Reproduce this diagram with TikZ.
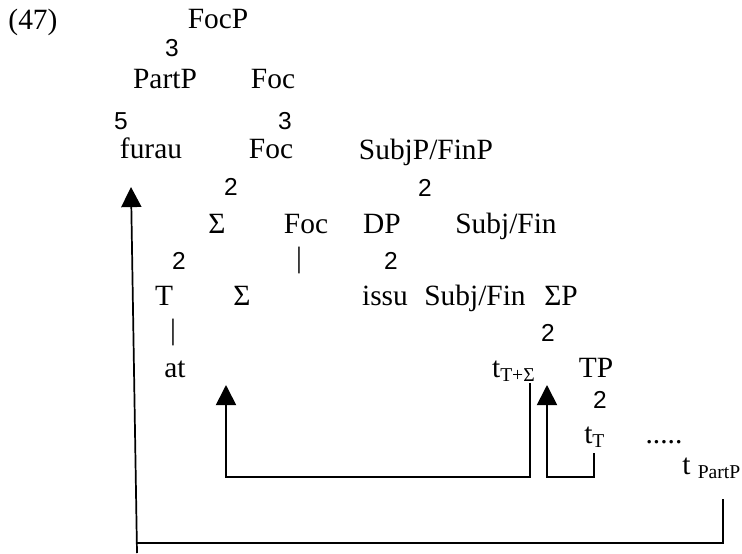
\documentclass[tikz,border=0pt]{standalone}
\usepackage{fontspec}
\setmainfont{Liberation Serif}
\newfontfamily\brfont{Liberation Sans}
\usetikzlibrary{arrows.meta,positioning}

\begin{document}
\begin{tikzpicture}[x=0.408pt, y=-0.408pt,
            lab/.style={inner sep=0pt, anchor=base, font=\fontsize{12}{14}\selectfont},
            br/.style={inner sep=0pt, anchor=center, font=\brfont\fontsize{10}{12}\selectfont},
            mv/.style={line width=0.7pt},
            mv tip/.style={mv, -{Triangle[length=8.2pt,width=8.2pt]}}]
            
            \useasboundingbox (0,0) rectangle (742,554);
            
            \node[lab, anchor=base west] (ex) at (8,29) {(47)};
            \node[lab] (focp) at (218,28) {FocP};
            \node[br] (b1) at (172,48) {3};
            \node[lab] (partp) at (165,88) {PartP};
            \node[lab] (foc1) at (273,88) {Foc};
            \node[br] (b2) at (121,121) {5};
            \node[br] (b3) at (285,121) {3};
            \node[lab] (furau) at (151,158) {furau};
            \node[lab] (foc2) at (271,158) {Foc};
            \node[lab] (subjp) at (426,159) {SubjP/FinP};
            \node[br] (b4) at (231,187) {2};
            \node[br] (b5) at (425,188) {2};
            \node[lab] (sig1) at (217,233) {Σ};
            \node[lab] (foc3) at (306,233) {Foc};
            \node[lab] (dp) at (382,233) {DP};
            \node[lab] (subj1) at (506,233) {Subj/Fin};
            \node[br] (b6) at (179,261) {2};
            \node[lab, anchor=center] (bar1) at (299,260) {|};
            \node[br] (b7) at (391,261) {2};
            \node[lab] (t) at (164,305) {T};
            \node[lab] (sig2) at (242,305) {Σ};
            \node[lab] (issu) at (385,305) {issu};
            \node[lab] (subj2) at (475,305) {Subj/Fin};
            \node[lab] (sigp) at (561,305) {ΣP};
            \node[lab, anchor=center] (bar2) at (173,332) {|};
            \node[br] (b8) at (548,333) {2};
            \node[lab] (at) at (175,377) {at};
            \node[lab] (tts) at (514,377) {t\textsubscript{T+Σ}};
            \node[lab] (tp) at (596,377) {TP};
            \node[br] (b9) at (600,400) {2};
            \node[lab] (tt) at (595,443) {t\textsubscript{T}};
            \node[lab] (dots) at (664,443) {.....};
            \node[lab, anchor=base east] (tpp) at (742,474) {t \textsubscript{PartP}};
            
            \coordinate (tts foot) at (530,383);
            \coordinate (sig land) at (226,385);
            \coordinate (tt foot) at (594,453);
            \coordinate (tts land) at (547,385);
            \coordinate (tpp foot) at (723,499);
            \coordinate (long start) at (137,553);
            \coordinate (furau land) at (131,187);
            
            \draw[mv tip] (tts foot) -- (530,477) -- (226,477) -- (sig land);
            \draw[mv tip] (tt foot) -- (594,477) -- (547,477) -- (tts land);
            \draw[mv] (tpp foot) -- (723,543) -- (136,543);
            \draw[mv tip] (long start) -- (furau land);
        \end{tikzpicture}
\end{document}
